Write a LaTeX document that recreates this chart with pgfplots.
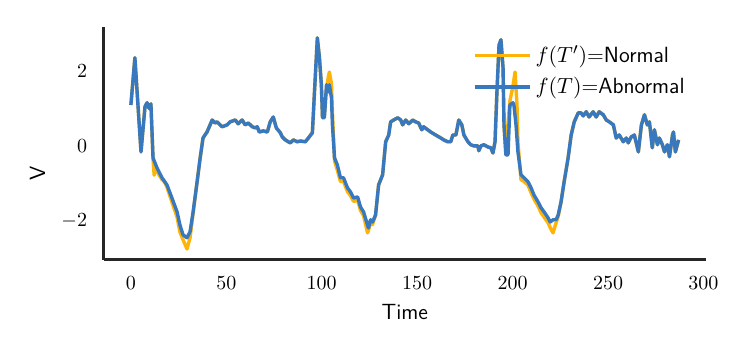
\documentclass[border=0pt]{standalone}
\usepackage{pgfplots}
\pgfplotsset{compat=1.18}
\usepackage{pgfplotstable}
\definecolor{myorange}{HTML}{FEB308}
\definecolor{myblue}{HTML}{3778BF}
\definecolor{spine}{HTML}{262626}
\pgfplotstableread{
x y
0 1.09
2.1 2.35
5.3 -0.16
7.4 1.05
8.5 1.15
9.5 1.0
10.5 1.12
11.6 -0.32
13.7 -0.59
16.3 -0.85
18.9 -1.04
21.5 -1.39
24.2 -1.76
25.7 -2.11
27.3 -2.37
29.4 -2.45
31 -2.29
32.6 -1.76
34.7 -0.96
36.3 -0.32
37.8 0.21
39.9 0.37
42.6 0.69
44.1 0.61
45.2 0.64
47.8 0.51
50.4 0.56
52 0.64
53.6 0.67
54.7 0.69
56.2 0.59
58.3 0.69
59.9 0.56
61.5 0.61
63.6 0.51
65.2 0.48
66.2 0.51
67.3 0.37
69.4 0.40
71.5 0.37
73 0.64
74.6 0.77
76.2 0.48
78.3 0.35
79.3 0.24
80.9 0.16
82.5 0.11
83.6 0.08
85.1 0.16
87.2 0.11
88.8 0.13
91.4 0.11
93 0.21
95.1 0.35
96.2 1.44
97.7 2.88
98.8 2.35
99.8 1.63
100.4 0.75
101.4 0.75
102.5 1.63
103.5 1.44
104 1.63
105.1 1.28
105.6 0.56
106.7 -0.32
108.2 -0.51
109.8 -0.85
111.4 -0.85
113.5 -1.12
115.1 -1.23
116.7 -1.39
118.8 -1.36
120.3 -1.63
121.9 -1.76
124 -2.11
124.5 -2.19
125.6 -1.97
126.6 -2.03
128.2 -1.84
129.8 -1.04
131.9 -0.77
133.5 0.11
135.1 0.29
136.1 0.64
137.7 0.69
139.8 0.75
141.4 0.69
142.4 0.56
144 0.69
145.6 0.59
147.7 0.69
149.2 0.64
150.8 0.61
152.4 0.43
153.4 0.51
155.5 0.43
157.1 0.37
159.7 0.29
162.4 0.21
163.9 0.16
166 0.11
167.6 0.11
168.7 0.29
170.3 0.29
171.8 0.69
173.4 0.56
174.5 0.29
176.6 0.11
178.1 0.03
179.7 0
181.8 0
182.3 -0.13
183.4 0
185 0.03
187.1 -0.03
188.6 -0.05
189.7 -0.19
190.8 0.11
191.8 1.44
192.9 2.69
193.9 2.83
195 2.08
195.5 0.56
196.5 -0.24
197.6 -0.24
198.6 1.09
200.2 1.15
200.7 1.09
201.8 0.56
202.8 -0.16
204.4 -0.77
206 -0.85
208.1 -0.96
209.7 -1.12
211.2 -1.31
213.3 -1.49
214.9 -1.65
216.5 -1.76
218.6 -1.92
219.7 -2.03
221.2 -1.97
222.8 -1.97
223.9 -1.84
225.4 -1.49
227 -0.96
229.1 -0.32
230.7 0.29
232.3 0.64
234.4 0.88
235.9 0.88
237 0.8
238.6 0.91
240.1 0.77
242.2 0.91
243.8 0.77
245.4 0.91
247.5 0.83
249.1 0.69
250.7 0.64
252.8 0.56
254.3 0.21
255.9 0.29
258 0.11
259.6 0.21
260.6 0.08
262.2 0.24
263.8 0.29
265.9 -0.16
267.5 0.56
269.1 0.83
270.6 0.56
271.7 0.64
273.2 -0.05
274.3 0.43
275.9 0.03
276.9 0.21
278.5 0.03
279.6 -0.16
281.1 0.03
282.2 -0.29
283.8 0.29
284.3 0.37
285.3 -0.16
287 0.16
}\abnormal
\pgfplotstableread{
x y
0 1.09
2.1 2.35
5.3 -0.16
7.4 1.05
8.5 1.15
9.5 1.0
10.5 1.12
11.6 -0.35
12.2 -0.78
13.2 -0.55
14.5 -0.75
16.3 -0.9
17.5 -0.95
18.9 -1.1
21.5 -1.5
24.2 -1.9
25.7 -2.3
27.3 -2.5
29.4 -2.75
31 -2.45
32.6 -1.8
34.7 -0.95
36.3 -0.32
37.8 0.21
39.9 0.37
42.6 0.69
44.1 0.61
45.2 0.64
47.8 0.51
50.4 0.56
52 0.64
53.6 0.67
54.7 0.69
56.2 0.59
58.3 0.69
59.9 0.56
61.5 0.61
63.6 0.51
65.2 0.48
66.2 0.51
67.3 0.37
69.4 0.40
71.5 0.37
73 0.64
74.6 0.77
76.2 0.48
78.3 0.35
79.3 0.24
80.9 0.16
82.5 0.11
83.6 0.08
85.1 0.16
87.2 0.11
88.8 0.13
91.4 0.11
93 0.21
95.1 0.35
96.2 1.44
97.7 2.88
98.8 2.35
99.8 1.63
100.4 0.75
101.4 0.85
102.5 1.55
103.5 1.85
104 1.97
105.1 1.65
105.6 0.9
106.7 -0.4
108.2 -0.65
109.8 -0.95
111.4 -0.95
113.5 -1.22
115.1 -1.33
116.7 -1.48
118.8 -1.45
120.3 -1.72
121.9 -1.86
124 -2.32
124.5 -2.25
125.6 -2.05
126.6 -2.1
128.2 -1.85
129.8 -1.04
131.9 -0.77
133.5 0.11
135.1 0.29
136.1 0.64
137.7 0.69
139.8 0.75
141.4 0.69
142.4 0.56
144 0.69
145.6 0.59
147.7 0.69
149.2 0.64
150.8 0.61
152.4 0.43
153.4 0.51
155.5 0.43
157.1 0.37
159.7 0.29
162.4 0.21
163.9 0.16
166 0.11
167.6 0.11
168.7 0.29
170.3 0.29
171.8 0.69
173.4 0.56
174.5 0.29
176.6 0.11
178.1 0.03
179.7 0
181.8 0
182.3 -0.13
183.4 0
185 0.03
187.1 -0.03
188.6 -0.05
189.7 -0.19
190.8 0.11
191.8 1.44
192.9 2.69
193.9 2.83
195 2.08
195.5 0.56
196.5 -0.24
197.6 0.6
198.6 1.2
200.2 1.6
201.3 1.97
202.3 1.1
202.8 0.1
204.4 -0.9
206 -0.95
208.1 -1.05
209.7 -1.25
211.2 -1.42
213.3 -1.6
214.9 -1.78
216.5 -1.9
218.6 -2.05
219.7 -2.18
221.2 -2.32
222.8 -2.05
223.9 -1.88
225.4 -1.5
227 -0.96
229.1 -0.32
230.7 0.29
232.3 0.64
234.4 0.88
235.9 0.88
237 0.8
238.6 0.91
240.1 0.77
242.2 0.91
243.8 0.77
245.4 0.91
247.5 0.83
249.1 0.69
250.7 0.64
252.8 0.56
254.3 0.21
255.9 0.29
258 0.11
259.6 0.21
260.6 0.08
262.2 0.24
263.8 0.29
265.9 -0.16
267.5 0.56
269.1 0.83
270.6 0.56
271.7 0.64
273.2 -0.05
274.3 0.43
275.9 0.03
276.9 0.21
278.5 0.03
279.6 -0.16
281.1 0.03
282.2 -0.29
283.8 0.29
284.3 0.37
285.3 -0.16
287 0.16
}\normal
\begin{document}
\begin{tikzpicture}
\begin{axis}[
  scale only axis, width=301.25pt, height=116.25pt,
  xmin=-14.35, xmax=301.35, ymin=-3.03, ymax=3.17,
  axis x line*=bottom, axis y line*=left,
  axis line style={spine, line width=1.5pt, -},
  xtick={0,50,100,150,200,250,300}, ytick={-2,0,2},
  major tick length=0pt,
  xticklabel shift=5pt, yticklabel shift=4.7pt,
  tick label style={font=\normalsize},
  xlabel={Time}, ylabel={V},
  label style={font=\fontsize{11}{13}\selectfont\sffamily},
  xlabel style={at={(axis description cs:0.5,-0.2275)}, anchor=center},
  ylabel style={at={(axis description cs:-0.1096,0.37)}, anchor=center},
  legend style={at={(axis description cs:0.613,0.939)}, anchor=north west,
    draw=none, fill=none, inner sep=0pt, row sep=2pt,
    font=\fontsize{11}{13}\selectfont\sffamily},
  legend cell align=left,
  legend image code/.code={\path (0pt,0pt) -- (27.5pt,0pt);\draw[#1] (0pt,0pt) -- (22pt,0pt);},
  every axis plot/.append style={line width=1.7pt, line join=round},
]
\addplot[myorange] table[x=x,y=y] {\normal};
\addlegendentry{$f(T')$=Normal}
\addplot[myblue] table[x=x,y=y] {\abnormal};
\addlegendentry{$f(T)$=Abnormal}
\coordinate (BL) at (rel axis cs:0,0);
\coordinate (TR) at (rel axis cs:1,1);
\end{axis}
\pgfresetboundingbox
\path[use as bounding box] ([xshift=-51.75pt,yshift=-47.75pt]BL) rectangle ([xshift=20.5pt,yshift=13.5pt]TR);
\end{tikzpicture}
\end{document}
